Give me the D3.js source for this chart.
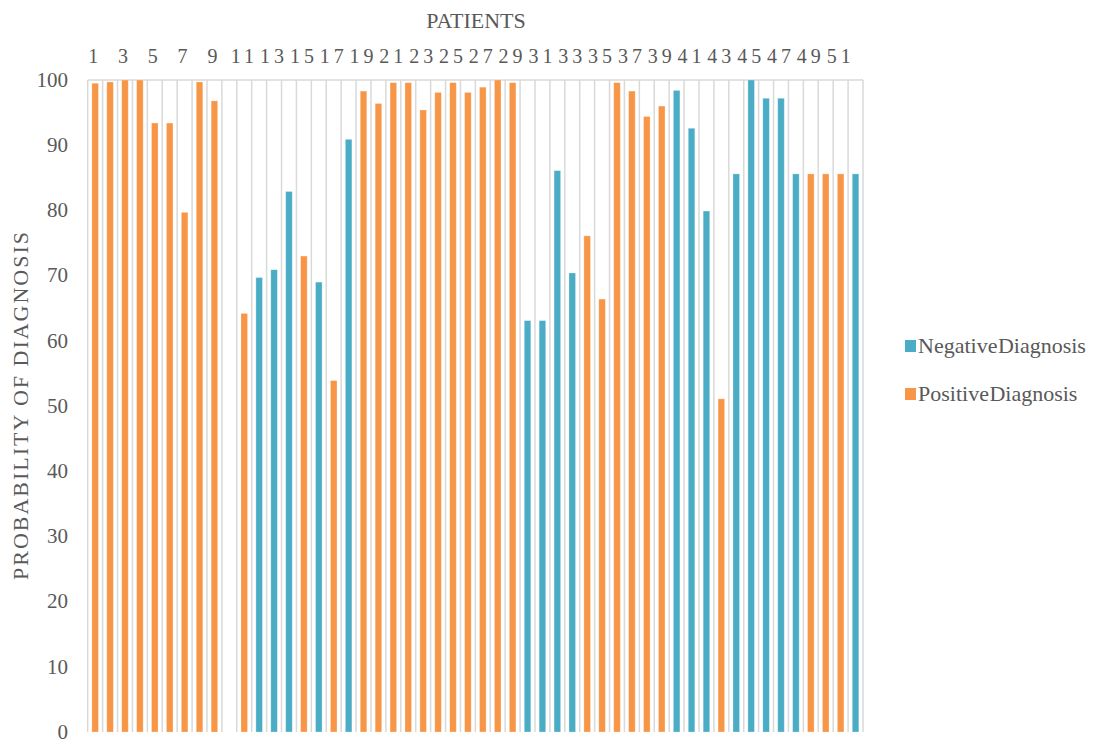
<!DOCTYPE html>
<html>
<head>
<meta charset="utf-8">
<script src="https://cdn.jsdelivr.net/npm/d3@7"></script>
<style>
  html, body { margin: 0; padding: 0; background: #fff; }
</style>
</head>
<body>
<svg id="chart" width="1093" height="743"></svg>
<script>
const FONT = "'Liberation Serif', 'Tinos', 'DejaVu Serif', 'Times New Roman', serif";

// Patient ids shown on the category axis (52 patients)
const patients = d3.range(1, 53);
// Odd ids are labelled
const tickLabels = d3.range(1, 52, 2);
// Probability of a negative diagnosis (null where the patient was not negative)
const negative = [
  null, null, null, null, null, null, null, null, null, null,
  null, 69.7, 70.9, 82.9, null, 69.0, null, 90.9, null, null,
  null, null, null, null, null, null, null, null, null, 63.1,
  63.1, 86.1, 70.4, null, null, null, null, null, null, 98.4,
  92.6, 79.9, null, 85.6, 100, 97.2, 97.2, 85.6, null, null,
  null, 85.6
];
// Probability of a positive diagnosis (null where the patient was not positive)
const positive = [
  99.5, 99.7, 100, 100, 93.4, 93.4, 79.7, 99.7, 96.8, null,
  64.2, null, null, null, 73.0, null, 53.9, null, 98.3, 96.4,
  99.6, 99.6, 95.4, 98.1, 99.6, 98.1, 98.9, 100, 99.6, null,
  null, null, null, 76.1, 66.4, 99.6, 98.3, 94.4, 96.0, null,
  null, null, 51.1, null, null, null, null, null, 85.6, 85.6,
  85.6, null
];
const yTicks = d3.range(0, 101, 10);
const seriesNames = ["Negative Diagnosis", "Positive Diagnosis"];
const seriesColors = ["#4BACC6", "#F79646"];

const svg = d3.select("#chart");
const plot = { left: 87.7, right: 863, top: 80, bottom: 732 };

const x = d3.scaleBand().domain(patients).range([plot.left, plot.right]).padding(0);
const y = d3.scaleLinear().domain([0, 100]).range([plot.bottom, plot.top]);

// Vertical separators between patients
const bounds = patients.map(p => x(p)).concat([x(patients[patients.length - 1]) + x.bandwidth()]);
svg.append("g").selectAll("line").data(bounds).join("line")
  .attr("x1", d => d).attr("x2", d => d)
  .attr("y1", plot.top).attr("y2", plot.bottom)
  .attr("stroke", "#d9d9d9").attr("stroke-width", 1.5);
// Top frame line
svg.append("line")
  .attr("x1", plot.left).attr("x2", plot.right)
  .attr("y1", plot.top).attr("y2", plot.top)
  .attr("stroke", "#d9d9d9").attr("stroke-width", 1.5);

// Bars
const barW = x.bandwidth() * 0.44;
const series = [negative, positive];
series.forEach((vals, si) => {
  const rows = patients.map((p, i) => ({ p, v: vals[i] })).filter(d => d.v != null);
  svg.append("g").selectAll("rect").data(rows).join("rect")
    .attr("x", d => x(d.p) + x.bandwidth() / 2 - barW / 2)
    .attr("width", barW)
    .attr("y", d => y(d.v))
    .attr("height", d => y(0) - y(d.v))
    .attr("fill", seriesColors[si])
    .attr("stroke", "rgba(255,255,255,0.35)")
    .attr("stroke-width", 0.8);
});

// Y axis labels
const yAxis = d3.axisLeft(y).tickValues(yTicks).tickSize(0).tickPadding(0);
const gy = svg.append("g").attr("transform", `translate(68,0)`).call(yAxis)
  .attr("font-family", FONT).attr("font-size", 21);
gy.select(".domain").remove();
gy.selectAll("text")
  .attr("fill", "#595959")
  .attr("dy", "0.3em");

// X axis labels on top (odd patient ids)
const xAxis = d3.axisTop(x).tickValues(tickLabels).tickSize(0).tickPadding(0);
const gx = svg.append("g").attr("transform", `translate(0,63)`).call(xAxis)
  .attr("font-family", FONT).attr("font-size", 20);
gx.select(".domain").remove();
gx.selectAll("text")
  .attr("fill", "#595959")
  .attr("letter-spacing", "4px")
  .attr("dy", 0);

// Axis titles
svg.append("text")
  .attr("x", 476).attr("y", 28)
  .attr("text-anchor", "middle")
  .attr("font-family", FONT)
  .attr("font-size", 22)
  .attr("fill", "#595959")
  .text("PATIENTS");

svg.append("text")
  .attr("transform", `translate(28,${(plot.top + plot.bottom) / 2}) rotate(-90)`)
  .attr("text-anchor", "middle")
  .attr("font-family", FONT)
  .attr("font-size", 22)
  .attr("fill", "#595959")
  .attr("textLength", 348)
  .attr("lengthAdjust", "spacing")
  .text("PROBABILITY OF DIAGNOSIS");

// Legend
const legend = svg.append("g").attr("font-family", FONT);
const legendY = [346, 394];
seriesNames.forEach((name, i) => {
  legend.append("rect")
    .attr("x", 905).attr("y", legendY[i] - 6)
    .attr("width", 11).attr("height", 12)
    .attr("fill", seriesColors[i]);
  legend.append("text")
    .attr("x", 918).attr("y", legendY[i])
    .attr("dy", "0.34em")
    .attr("font-size", 22)
    .attr("fill", "#595959")
    .attr("word-spacing", "-5px")
    .text(name);
});
</script>
</body>
</html>
